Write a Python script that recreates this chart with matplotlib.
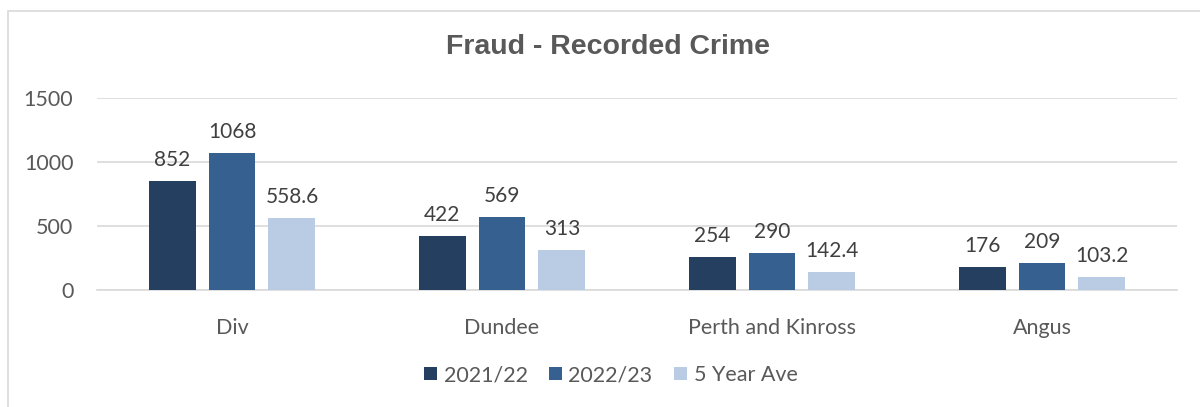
import matplotlib.pyplot as plt
from matplotlib.patches import Rectangle
import numpy as np

areas = ['Div', 'Dundee', 'Perth and Kinross', 'Angus']
series = ['2021/22', '2022/23', '5 Year Ave']
y2021 = [852, 422, 254, 176]
y2022 = [1068, 569, 290, 209]
ave5 = [558.6, 313, 142.4, 103.2]
colors = ['#243F60', '#36608F', '#B9CCE4']

plt.rcParams['font.family'] = ['Lato', 'DejaVu Sans']

fig = plt.figure(figsize=(12, 4.07), dpi=100)
ax = fig.add_axes([97/1200, 117/407, 1080/1200, 192/407])

# light frame around the chart area
fig.patches.append(Rectangle((8/1200, -0.1), 1.2, (407-11)/407 + 0.1,
                             transform=fig.transFigure, fill=False,
                             edgecolor='#D9D9D9', linewidth=1.2))

x = np.arange(len(areas))
step = 0.222
width = 0.174
for i, (vals, lab) in enumerate(zip([y2021, y2022, ave5], series)):
    pos = x + (i - 1) * step
    bars = ax.bar(pos, vals, width, color=colors[i], label=lab, zorder=3)
    for b, v in zip(bars, vals):
        ax.annotate(f'{v:g}', (b.get_x() + b.get_width()/2, v),
                    xytext=(0, 8), textcoords='offset points',
                    ha='center', va='bottom', fontsize=15, color='#404040')

ax.set_xlim(-0.5, 3.5)
ax.set_ylim(0, 1500)
ax.set_yticks([0, 500, 1000, 1500])
ax.set_xticks(x)
ax.set_xticklabels(areas)
ax.grid(axis='y', color='#D9D9D9', linewidth=1.2, zorder=0)
for s in ['top', 'right', 'left']:
    ax.spines[s].set_visible(False)
ax.spines['bottom'].set_color('#D9D9D9')
ax.spines['bottom'].set_linewidth(1.2)
ax.tick_params(axis='both', length=0, labelsize=15.5, colors='#595959')
ax.tick_params(axis='x', pad=20)
ax.tick_params(axis='y', pad=17)

fig.text(0.507, 1 - 47/407, 'Fraud - Recorded Crime', ha='center', va='center',
         fontsize=20.5, fontweight='bold', color='#595959', family='Liberation Sans')

fig.legend(loc='center', bbox_to_anchor=(0.509, 1 - 375/407), ncol=3,
           frameon=False, fontsize=15.5, handlelength=0.6, handleheight=0.6,
           handletextpad=0.3, columnspacing=1.0, labelcolor='#595959')

fig.savefig('out.png', dpi=100)
